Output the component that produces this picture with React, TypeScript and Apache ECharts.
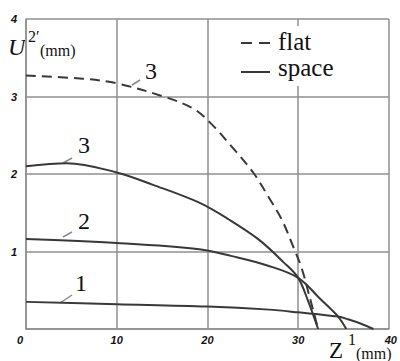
import React, { useEffect, useRef } from "react";
import * as echarts from "echarts";

// Curve "3" (flat, dashed)
const flat3X = [0, 6.25, 10, 15.4, 18.5, 20.4, 22.7, 25.1, 26.75, 28.2, 29.5, 30.4, 31.25, 32.2];
const flat3Y = [3.27, 3.23, 3.17, 2.99, 2.84, 2.65, 2.35, 2.01, 1.70, 1.41, 1.05, 0.78, 0.42, 0];
// Curve "3" (space, solid)
const space3X = [0, 4.5, 10, 14, 19.1, 22.4, 25.7, 28.4, 30.0, 31.1, 32.2];
const space3Y = [2.10, 2.14, 2.02, 1.86, 1.63, 1.41, 1.15, 0.86, 0.66, 0.36, 0];
// Curve "2" (space, solid)
const space2X = [0, 10, 19.1, 22.7, 26.6, 30.0, 32.5, 34.4, 35.3];
const space2Y = [1.16, 1.11, 1.03, 0.94, 0.82, 0.66, 0.38, 0.16, 0];
// Curve "1" (space, solid)
const space1X = [0, 10, 20, 26.8, 30, 34.4, 35.5, 37, 38.3];
const space1Y = [0.35, 0.32, 0.29, 0.25, 0.215, 0.16, 0.125, 0.065, 0];

const xTicks = [0, 10, 20, 30, 40];
const yTicks = [0, 1, 2, 3, 4];
const legendNames = ["flat", "space"];
const curveLabels = ["3", "3", "2", "1"];

const pair = (xs: number[], ys: number[]) => xs.map((x, i) => [x, ys[i]]);

const SERIF = "'Liberation Serif', 'DejaVu Serif', serif";
const LINE = "#383838";
const GRID = "#8f8f8f";
const LEAD = "#8a8a8a";

export default function App() {
  const ref = useRef<HTMLDivElement>(null);
  useEffect(() => {
    if (!ref.current) return;
    const chart = echarts.init(ref.current, undefined, { renderer: "svg" });
    const tickFont = {
      color: "#111",
      fontFamily: "Liberation Sans",
      fontWeight: "bold" as const,
      fontStyle: "italic" as const,
      fontSize: 11,
    };
    const txt = (text: string, x: number, y: number, size: number, extra: any = {}) => ({
      type: "text",
      x,
      y,
      silent: true,
      style: {
        legacy: false,
        text,
        font: `${extra.italic ? "italic " : ""}${size}px ${SERIF}`,
        fill: "#111",
        align: extra.align || "left",
        verticalAlign: "middle",
      },
    });
    const lead = (x1: number, y1: number, x2: number, y2: number) => ({
      type: "line",
      silent: true,
      shape: { x1, y1, x2, y2 },
      style: { stroke: LEAD, lineWidth: 1.5 },
    });
    const solidSeries = (data: number[][]) => ({
      type: "line",
      data,
      showSymbol: false,
      smooth: 0.35,
      lineStyle: { color: LINE, width: 2 },
      z: 3,
    });
    chart.setOption({
      animation: false,
      backgroundColor: "#fff",
      grid: { left: 26, right: 9, top: 19, bottom: 32 },
      xAxis: {
        type: "value",
        min: xTicks[0],
        max: xTicks[xTicks.length - 1],
        interval: 10,
        axisLine: { show: true, lineStyle: { color: GRID, width: 1.5 } },
        axisTick: { show: false },
        splitLine: { show: true, lineStyle: { color: GRID, width: 1.5 } },
        axisLabel: {
          ...tickFont,
          margin: 5,
          formatter: (v: number) => (v === 0 ? "{z|0}" : v === 40 ? "{t|40}" : String(v)),
          rich: {
            z: { ...tickFont, padding: [0, 12, 0, 0] },
            t: { ...tickFont, padding: [0, 0, 8, 4] },
          },
        },
      },
      yAxis: {
        type: "value",
        min: yTicks[0],
        max: yTicks[yTicks.length - 1],
        interval: 1,
        axisLine: { show: true, lineStyle: { color: GRID, width: 1.5 } },
        axisTick: { show: false },
        splitLine: { show: true, lineStyle: { color: GRID, width: 1.5 } },
        axisLabel: {
          ...tickFont,
          margin: 9,
          showMinLabel: false,
          formatter: (v: number) => (v === 0 ? "" : String(v)),
        },
      },
      series: [
        {
          type: "line",
          data: pair(flat3X, flat3Y),
          showSymbol: false,
          smooth: 0.35,
          lineStyle: { color: LINE, width: 2, type: [10, 6] },
          z: 3,
        },
        solidSeries(pair(space3X, space3Y)),
        solidSeries(pair(space2X, space2Y)),
        solidSeries(pair(space1X, space1Y)),
      ],
      graphic: [
        // legend
        { type: "rect", shape: { x: 236, y: 26, width: 150, height: 60 }, style: { fill: "#fff" }, silent: true, z: 10 },
        { type: "line", shape: { x1: 241, y1: 43, x2: 270, y2: 43 }, style: { stroke: LINE, lineWidth: 2, lineDash: [11, 7] }, z: 11, silent: true },
        { type: "line", shape: { x1: 241, y1: 72, x2: 270, y2: 72 }, style: { stroke: LINE, lineWidth: 2 }, z: 11, silent: true },
        { ...txt(legendNames[0], 278, 41, 25), z: 11 },
        { ...txt(legendNames[1], 278, 67, 25), z: 11 },
        // axis titles
        txt("U", 8, 47, 24, { italic: true }),
        txt("2′", 28, 36, 16),
        txt("(mm)", 40, 50, 16),
        txt("Z", 329, 350, 23),
        txt("1", 348, 339, 16),
        txt("(mm)", 356, 353, 16),
        // curve labels
        txt(curveLabels[0], 151, 71, 24, { align: "center" }),
        txt(curveLabels[1], 84, 145, 24, { align: "center" }),
        txt(curveLabels[2], 84, 221, 24, { align: "center" }),
        txt(curveLabels[3], 81, 283, 24, { align: "center" }),
        lead(132, 85, 140, 80),
        lead(63, 163, 72, 158),
        lead(63, 237, 72, 232),
        lead(60, 303, 72, 295),
      ],
    });
    return () => chart.dispose();
  }, []);
  return (
    <div
      ref={ref}
      style={{ position: "fixed", left: 0, top: 0, width: 400, height: 361, background: "#fff" }}
    />
  );
}
